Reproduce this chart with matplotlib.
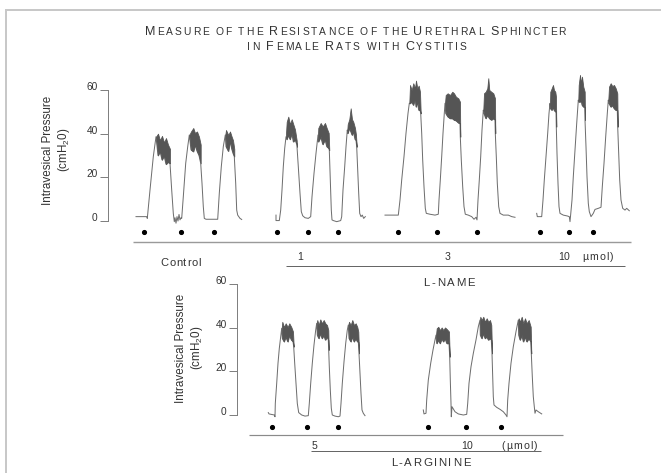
import matplotlib
matplotlib.use('Agg')
import matplotlib.pyplot as plt
from matplotlib.lines import Line2D
from matplotlib.font_manager import FontProperties, findfont
from matplotlib.ft2font import FT2Font

# ---------------------------------------------------------------- data
# pressure axis
YTICKS = [0, 20, 40, 60]

# Top recording (L-NAME). Each trace: (time, pressure cmH2O); each plateau band: (time, low, high)
ctrl_trace = [(136, 2.0), (146.7, 2.0), (147.3, 1.2), (150, 14.2), (153.3, 29.5), (156, 38.6),
              (170, 26.4), (171.7, 14.2), (173.3, 3.5), (174.3, -0.3), (175, 1.5), (176, -1), (177, 2),
              (178, 0), (179, 3), (180, 0.5), (181, 1.5), (181.7, 1.2),
              (183.3, 11.1), (185.7, 26.4), (187.7, 34), (189.3, 39.4),
              (200.7, 26.4), (202, 17.3), (203.3, 6.6), (204.3, 1.2), (206, 0.8), (217.7, 0.8),
              (219.3, 12.7), (221.3, 24.9), (223.3, 34.1), (225.3, 39.4),
              (234.3, 29.5), (235.7, 17.3), (236.7, 5), (237.7, 2.7), (240, 1.2), (241.7, 0.7)]
ctrl_bands = [
    [(156, 38.6, 38.6), (158, 30, 40), (160, 32, 37), (162, 28, 39), (164, 30, 36), (166, 26, 38),
     (168, 27, 35), (170, 26.4, 33)],
    [(189.3, 39.4, 39.4), (191, 32.6, 41), (193.3, 31.8, 42.6), (195, 34.9, 40.3), (197, 32, 41),
     (199, 30, 38.6), (200.7, 26.4, 35)],
    [(225.3, 39.4, 39.4), (226, 34.1, 41.7), (228.3, 32, 39.4), (230, 36.6, 41), (231.7, 33, 38.6),
     (233, 31, 37), (234.3, 29.5, 33)],
]
ctrl_dots = [144, 180.7, 214.3]

lname1_trace = [(276, 2.7), (276, 0.2), (279.3, 0.2), (280.7, 5), (282, 14.2), (283.3, 24.9), (284.7, 33.3), (286, 38.6),
                (297, 34.0), (298.3, 24.9), (300, 12.7), (301.3, 4.3), (302.7, 2.4), (305, 1.5), (308.3, 1.2), (310.7, 2),
                (312, 11.1), (314, 21.8), (316, 31), (318, 39.4),
                (329.3, 32.5), (330.3, 18.8), (331.3, 5), (332, 0.5), (333.3, 0.2), (336.7, -0.3), (340.7, 0.2), (341.7, 2),
                (343, 14.2), (344.7, 24.9), (346, 34), (347.3, 41.7),
                (356.7, 34), (357.7, 23.4), (358.7, 12.7), (359.7, 3.5), (361, 2), (362.3, 2.7), (363.7, 1.2), (365.3, 2)]
lname1_bands = [
    [(286, 38.6, 40), (286.7, 37.4, 45.4), (288.3, 39.4, 47.8), (290, 37.4, 44.3), (291.7, 40.3, 46.6),
     (293.3, 36.3, 44.3), (295, 37.4, 41.9), (296.7, 35.1, 36.9), (297, 34, 34)],
    [(318, 39.4, 39.4), (318.3, 36.3, 42.6), (320.7, 38.6, 44.9), (322.7, 35.1, 43.3), (325, 37.4, 44.9),
     (326.7, 34.1, 42.6), (328.7, 33.3, 40.3), (329.3, 32.5, 32.5)],
    [(347.3, 41.7, 41.7), (347.7, 40.2, 44.3), (349.3, 42.6, 46.6), (350.7, 41, 51.6), (352, 39.4, 46.6),
     (353.3, 41, 45.4), (355, 37.4, 42.6), (356, 37, 39.4), (356.7, 34, 34)],
]
lname1_dots = [277.3, 307.7, 338.3]

lname3_trace = [(385, 2.7), (398.3, 2.7), (400, 9.6), (401.7, 18.8), (404, 29.5), (406, 40.2), (408, 49.3), (409.3, 53.9),
                (420.7, 49.3), (421.7, 40.2), (422.7, 27.9), (424, 15.7), (425.3, 5.8), (426.3, 3.5), (430, 3.1), (435, 2.7), (438.3, 3.1),
                (439, 9.6), (440.3, 18.8), (441.7, 29.5), (443, 40.2), (444.3, 49.3), (445, 53.9),
                (460.3, 38.6), (461.3, 27.9), (462.7, 15.7), (464, 6.6), (465.3, 3.1), (468.3, 2.7), (471.7, 2.0), (474, 0.8), (476, 1.7), (477, 0.5),
                (478, 9.6), (479.3, 18.8), (480.7, 29.5), (482, 41.7), (483.3, 50.8),
                (495.3, 40.2), (496.3, 29.5), (497.3, 17.3), (498.7, 6.6), (500, 3.5), (503.3, 2.7), (508.3, 2.7), (511.7, 2.0), (515, 1.7)]
lname3_bands = [
    [(409.3, 53.9, 53.9), (410, 53.9, 62.3), (411.7, 54.6, 60), (413.3, 53.1, 63.1), (415, 56.2, 60.8),
     (416, 52.3, 64.3), (417.3, 54.6, 60.8), (418.7, 50.8, 62), (420, 50.8, 59.2), (420.7, 49.3, 49.3)],
    [(445, 53.9, 53.9), (445.7, 49.3, 57.7), (447.7, 47.8, 58.5), (450, 47, 57.7), (452.3, 47, 59.2),
     (454, 46.3, 58.5), (456, 46, 56.9), (458.3, 45, 56.2), (460, 44.6, 54.6), (460.3, 38.6, 38.6)],
    [(483.3, 50.8, 50.8), (484, 49.3, 58.5), (485.7, 47, 59.2), (487.3, 48.5, 60.8), (488.3, 47.8, 65.4),
     (489.3, 47, 60), (491.3, 46.3, 59.2), (493.3, 47, 58.5), (495, 46.3, 56.2), (495.3, 40.2, 40.2)],
]
lname3_dots = [398.3, 436.7, 476.7]

lname10_trace = [(536.7, 3.5), (537.3, 2), (541.7, 2), (543, 9.6), (544.3, 18.8), (546, 29.5), (547.7, 40.2), (549, 49.3), (550, 53.9),
                 (556.3, 43.2), (557, 31), (558, 17.3), (559, 6.6), (560, 3.5), (563.3, 2.7), (567.3, 2.3), (569.3, 2.0), (570, -0.3), (570.7, 3.1),
                 (572, 9.6), (573.3, 20.3), (575, 32.5), (576.7, 44.7), (578.3, 55.4),
                 (585, 46.3), (586, 34), (587, 20.3), (588.3, 8.1), (589.3, 4.3), (591, 2.0), (593.3, 3.5), (595, 5.3), (598.3, 5.8), (601, 6.3),
                 (602.3, 15.7), (604, 26.4), (605.7, 38.6), (607.3, 49.3), (608.3, 55.4),
                 (617.7, 43.2), (618.7, 31), (619.7, 18.8), (621, 9.6), (622.7, 5.8), (625, 5.0), (626.7, 5.8), (629.3, 4.7)]
lname10_bands = [
    [(550, 53.9, 53.9), (550.3, 51.6, 59.2), (551.7, 50.8, 60.8), (553, 52.3, 62.3), (554, 50.8, 60),
     (555.3, 50.1, 59.2), (556, 50.1, 56.9), (556.3, 43.2, 43.2)],
    [(578.3, 55.4, 55.4), (578.7, 54.6, 62.3), (580, 54.6, 66.9), (581, 55.4, 63.1), (582, 53.1, 66.1),
     (583.3, 52.3, 61.5), (584.7, 52.3, 59.2), (585, 46.3, 46.3)],
    [(608.3, 55.4, 55.4), (609, 53.9, 61.5), (610.7, 52.3, 63.1), (612.3, 53, 61.8), (614, 51.6, 62.3),
     (615.7, 50.8, 60.8), (617.3, 50.8, 58.5), (617.7, 43.2, 43.2)],
]
lname10_dots = [540, 569.3, 593.3]

# Bottom recording (L-ARGININE)
larg5_trace = [(268.3, 1.1), (269, 0.5), (274.3, 0), (275, -0.8), (275.3, 5.3), (276.7, 14.5), (278, 23.7), (279.3, 30.5), (280.7, 35.9), (281.7, 39.7),
               (293.7, 31.3), (294.7, 23.7), (296, 14.5), (297.3, 5.3), (298.7, 1.1), (301.7, 0), (305, -0.5), (308.3, -0.3),
               (309.3, 5.3), (310.7, 14.5), (312.3, 23.7), (314, 32.1), (315.7, 38.9), (316.7, 42),
               (328.7, 29.8), (329.3, 22.1), (330.3, 11.5), (331.3, 3.1), (332.3, 0), (335, -0.5), (338.3, -0.8), (340, -0.5),
               (341, 5.3), (342.3, 14.5), (344, 24.4), (345.7, 32.8), (347.3, 38.9), (348.3, 41.2),
               (359, 28.2), (360, 19.1), (361, 9.9), (362, 2.3), (363.3, 0.8), (365, -0.3)]
larg5_bands = [
    [(281.7, 39.7, 39.7), (282.3, 35.1, 42.7), (284, 33.6, 40.3), (285.7, 35.9, 42), (287.7, 33.6, 40.3),
     (289.3, 36.6, 42), (291.3, 34.4, 40.3), (293, 33.6, 38.2), (293.7, 31.3, 31.3)],
    [(316.7, 42, 42), (317.3, 36.6, 43.5), (318.7, 35.1, 41.2), (320.3, 37.4, 43.8), (322, 35.1, 42),
     (323.7, 36.6, 43.5), (325.3, 34.4, 42), (327, 35.9, 41.2), (328.3, 34.4, 38.9), (328.7, 29.8, 29.8)],
    [(348.3, 41.2, 41.2), (349, 35.1, 42.7), (350.7, 33.6, 41.2), (352.3, 35.9, 43.5), (354, 33.6, 41.2),
     (355.7, 35.1, 42), (357.3, 33.6, 40.3), (358.3, 33.6, 38.2), (359, 28.2, 28.2)],
]
larg5_dots = [271.7, 307.3, 338.3]

larg10_trace = [(423.3, 2.3), (424, 0.5), (426, 0.8), (426.7, 6.9), (428.3, 16), (430.7, 23.7), (433, 29.8), (435, 34.4), (436, 36.6),
                (449.7, 26.7), (450.3, 16), (451, 5.3), (451.3, -0.8), (452, 3.8), (455, 1.5), (458.3, 0.5), (463.3, 0), (466.7, 0.3),
                (467.7, 5.3), (469, 14.5), (471, 22.1), (473.3, 28.2), (476, 34.4), (478.3, 40.4), (480, 43.5),
                (492, 28.2), (492.7, 17.6), (493.3, 8.4), (494, 4.6), (496.7, 3.5), (500, 2.6), (503.3, 1.5), (506, 0), (507, -0.8),
                (507.7, 6.9), (509, 14.5), (511, 23.7), (513.3, 31.3), (516, 38.2), (518.3, 43.5),
                (531.3, 28.2), (532.3, 17.6), (533.3, 8.4), (534.3, 3.8), (535, 0.8), (536, 2.3), (538.3, 1.5), (541.7, 0.5)]
larg10_bands = [
    [(436, 36.6, 36.6), (436.7, 32.8, 39.7), (438.3, 34.4, 40.4), (440, 32.8, 38.9), (441.7, 35.1, 40.1),
     (443.3, 33.6, 38.9), (445, 35.1, 40.1), (446.7, 32.8, 39.4), (449, 32.8, 38.2), (449.7, 26.7, 26.7)],
    [(480, 43.5, 43.5), (480.3, 36.6, 45), (481.7, 35.1, 43.5), (483.3, 37.4, 45), (485, 35.1, 42.7),
     (486.7, 35.9, 44.3), (488.3, 34.4, 42.7), (490, 35.1, 43.5), (491.3, 34.4, 41.2), (492, 28.2, 28.2)],
    [(518.3, 43.5, 43.5), (518.7, 36.6, 44.3), (520, 34.4, 42.7), (521.7, 36.6, 45), (523.3, 33.6, 42),
     (525, 35.9, 44.3), (526.7, 33.6, 42), (528.7, 35.1, 43.5), (530.7, 33.6, 40.4), (531.3, 28.2, 28.2)],
]
larg10_dots = [428.3, 466, 501]

TITLE_1 = "Measure of the Resistance of the Urethral Sphincter"
TITLE_2 = "in Female Rats with Cystitis"
YLABEL_1 = "Intravesical Pressure"
YLABEL_2 = r"(cmH$_\mathrm{2}$0)"
TOP_LABELS = ["Control", "1", "3", "10", "\u00b5mol)", "L-NAME"]
BOT_LABELS = ["5", "10", "(\u00b5mol)", "L-ARGININE"]

# ---------------------------------------------------------------- style / layout
W, H, DPI = 661, 473, 100
FONT = 'Liberation Sans'
plt.rcParams['font.family'] = [FONT, 'DejaVu Sans']
plt.rcParams['mathtext.fontset'] = 'custom'
plt.rcParams['mathtext.rm'] = FONT
plt.rcParams['mathtext.it'] = FONT + ':italic'
plt.rcParams['mathtext.bf'] = FONT + ':bold'
TXT = '#333333'
TRACE = '#6e6e6e'
BAND = '#555555'
PX = 0.72  # points per pixel
K = 60.0 / 131.0  # cmH2O per pixel

fig = plt.figure(figsize=(W / DPI, H / DPI), dpi=DPI)
fig.patch.set_facecolor('white')


def fxy(x, y):
    return x / W, 1 - y / H


def hline(x0, x1, y, color, lw):
    fig.add_artist(Line2D([x0 / W, x1 / W], [1 - y / H, 1 - y / H], transform=fig.transFigure,
                          color=color, lw=lw * PX, solid_capstyle='butt'))


_fontpath = findfont(FontProperties(family=FONT))


def adv(ch, size):
    f = FT2Font(_fontpath)
    f.set_size(size, DPI)
    g = f.load_char(ord(ch))
    return g.linearHoriAdvance / 65536.0


def spaced_text(xc, ybase, runs, target_w=None):
    chars = []
    for s, size in runs:
        for ch in s:
            chars.append((ch, size, adv(ch, size)))
    nat = sum(a for _, _, a in chars)
    n = len(chars)
    track = 0.0 if (target_w is None or n < 2) else (target_w - nat) / (n - 1)
    total = nat + track * (n - 1)
    x = xc - total / 2
    for ch, size, a in chars:
        if ch != ' ':
            fx, fy = fxy(x, ybase)
            fig.text(fx, fy, ch, fontsize=size, color=TXT, ha='left', va='baseline', family=FONT)
        x += a + track


def smallcaps_runs(text, big, small):
    runs = []
    for ch in text:
        if ch.isupper():
            runs.append((ch, big))
        else:
            runs.append((ch.upper(), small))
    return runs


# frame
fig.add_artist(Line2D([6 / W, 6 / W], [1 - 10 / H, 0], transform=fig.transFigure, color='#c8c8c8', lw=2 * PX))
fig.add_artist(Line2D([6 / W, 1], [1 - 10 / H, 1 - 10 / H], transform=fig.transFigure, color='#c8c8c8', lw=2 * PX))

# title
spaced_text(355.5, 35.3, smallcaps_runs(TITLE_1, 9.0, 7.4), target_w=421)
spaced_text(357, 49.7, smallcaps_runs(TITLE_2, 9.0, 7.4), target_w=219)


def make_axes(y_zero_px, spine_x):
    ax = fig.add_axes([0, 0, 1, 1])
    ax.set_xlim(0, W)
    ax.set_ylim((y_zero_px - H) * K, y_zero_px * K)
    ax.patch.set_alpha(0)
    for s in ['top', 'right', 'bottom']:
        ax.spines[s].set_visible(False)
    ax.spines['left'].set_position(('data', spine_x))
    ax.spines['left'].set_bounds(0, 60)
    ax.spines['left'].set_color('#808080')
    ax.spines['left'].set_linewidth(1.0 * PX)
    ax.set_xticks([])
    ax.set_yticks(YTICKS)
    ax.set_yticklabels([str(v) for v in YTICKS])
    ax.tick_params(axis='y', direction='out', length=5.5, width=1.0 * PX, color='#808080',
                   pad=2.0, labelsize=7.3, labelcolor=TXT)
    for lab in ax.get_yticklabels():
        lab.set_va('baseline')
        lab.set_family(FONT)
    return ax


def draw_group(ax, trace, bands, dots, dot_p):
    # the trace follows the lower edge of each noisy plateau
    pts = list(trace)
    for band in bands:
        t0, t1 = band[0][0], band[-1][0]
        pts += [(a, b) for a, b, _ in band if t0 < a < t1]
    pts.sort(key=lambda q: q[0])
    t = [a for a, _ in pts]
    p = [b for _, b in pts]
    ax.plot(t, p, color=TRACE, lw=1.0 * PX, solid_joinstyle='round', zorder=2)
    for band in bands:
        bt = [a for a, _, _ in band]
        lo = [b for _, b, _ in band]
        hi = [c for _, _, c in band]
        ax.fill_between(bt, lo, hi, color=BAND, lw=0.8 * PX, edgecolor=BAND, zorder=3)
    ax.plot(dots, [dot_p] * len(dots), 'o', ms=2.7, color='black', mec='black', zorder=4)


# top panel
ax1 = make_axes(221, 108)
for tr, bd, dt in [(ctrl_trace, ctrl_bands, ctrl_dots), (lname1_trace, lname1_bands, lname1_dots),
                   (lname3_trace, lname3_bands, lname3_dots), (lname10_trace, lname10_bands, lname10_dots)]:
    draw_group(ax1, tr, bd, dt, -4.9)

# bottom panel
ax2 = make_axes(415, 237)
for tr, bd, dt in [(larg5_trace, larg5_bands, larg5_dots), (larg10_trace, larg10_bands, larg10_dots)]:
    draw_group(ax2, tr, bd, dt, -5.5)

# y labels
for (x1, x2, yc) in [(48, 64, 150), (181, 197, 348)]:
    fig.text(*fxy(x1, yc), YLABEL_1, rotation=90, fontsize=8.4, color=TXT, ha='center', va='center')
    fig.text(*fxy(x2, yc), YLABEL_2, rotation=90, fontsize=8.4, color=TXT, ha='center', va='center')

# dosing lines
hline(133, 631, 242, '#9a9a9a', 1.4)
hline(286, 625, 266, '#666666', 1.0)
hline(249, 563, 435, '#8a8a8a', 1.2)
hline(311, 541, 451, '#666666', 1.0)

# labels top
spaced_text(180.7, 265.5, [(TOP_LABELS[0], 8.0)], target_w=40)
spaced_text(300, 259.8, [(TOP_LABELS[1], 7.6)])
spaced_text(447.5, 259.8, [(TOP_LABELS[2], 7.6)])
spaced_text(563.8, 259.8, [(TOP_LABELS[3], 7.6)], target_w=11)
spaced_text(597.8, 259.8, [(TOP_LABELS[4], 7.6)], target_w=31)
spaced_text(449.2, 285.7, [(TOP_LABELS[5], 8.2)], target_w=51.7)

# labels bottom
spaced_text(314, 449, [(BOT_LABELS[0], 7.6)])
spaced_text(466.8, 449, [(BOT_LABELS[1], 7.6)], target_w=11.7)
spaced_text(519.5, 449, [(BOT_LABELS[2], 7.6)], target_w=35.7)
spaced_text(430.7, 466, [(BOT_LABELS[3], 8.2)], target_w=80)

fig.savefig('out.png', dpi=DPI, facecolor='white')
